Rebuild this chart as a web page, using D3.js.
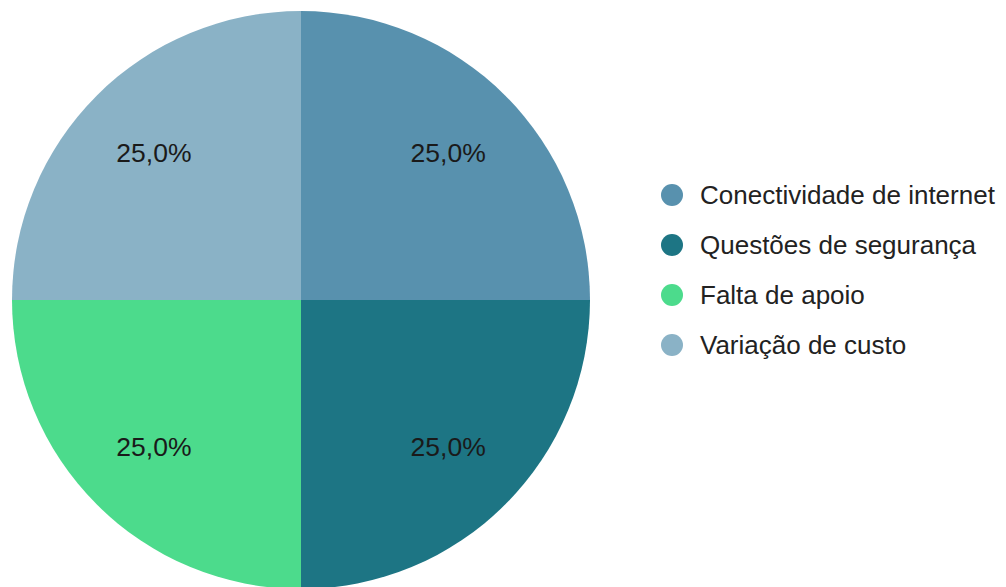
<!DOCTYPE html>
<html>
<head>
<meta charset="utf-8">
<script src="https://cdn.jsdelivr.net/npm/d3@7"></script>
<style>
  body { margin: 0; background: #fff; }
  svg { display: block; font-family: "Liberation Sans", Arial, sans-serif; }
</style>
</head>
<body>
<div id="chart"></div>
<script>
// Categories and their shares
var categories = ["Conectividade de internet", "Questões de segurança", "Falta de apoio", "Variação de custo"];
var values = [25, 25, 25, 25];
var colors = ["#5891ae", "#1d7584", "#4cdb8c", "#8ab2c6"];

var width = 1006, height = 587;
var cx = 301, cy = 300, radius = 289;

var svg = d3.select("#chart")
    .append("svg")
    .attr("width", width)
    .attr("height", height);

var data = categories.map(function (c, i) { return { name: c, value: values[i], color: colors[i] }; });

var pie = d3.pie()
    .value(function (d) { return d.value; })
    .sort(null);

var arc = d3.arc().innerRadius(0).outerRadius(radius);
var labelArc = d3.arc().innerRadius(radius * 0.72).outerRadius(radius * 0.72);

var total = d3.sum(values);
var fmt = function (v) { return (v / total * 100).toFixed(1).replace(".", ",") + "%"; };

var g = svg.append("g").attr("transform", "translate(" + cx + "," + cy + ")");

var slices = g.selectAll("g.slice")
    .data(pie(data))
    .enter().append("g")
    .attr("class", "slice");

slices.append("path")
    .attr("d", arc)
    .attr("fill", function (d) { return d.data.color; });

slices.append("text")
    .attr("transform", function (d) { return "translate(" + labelArc.centroid(d) + ")"; })
    .attr("text-anchor", "middle")
    .attr("dy", "0.35em")
    .attr("font-size", 26.5)
    .attr("fill", "#1a1a1a")
    .text(function (d) { return fmt(d.data.value); });

// legend
var legend = svg.append("g").attr("transform", "translate(672,195)");

var items = legend.selectAll("g.item")
    .data(data)
    .enter().append("g")
    .attr("class", "item")
    .attr("transform", function (d, i) { return "translate(0," + (i * 50) + ")"; });

items.append("circle")
    .attr("r", 11)
    .attr("fill", function (d) { return d.color; });

items.append("text")
    .attr("x", 28)
    .attr("dy", "0.35em")
    .attr("font-size", 26)
    .attr("fill", "#222")
    .text(function (d) { return d.name; });
</script>
</body>
</html>
